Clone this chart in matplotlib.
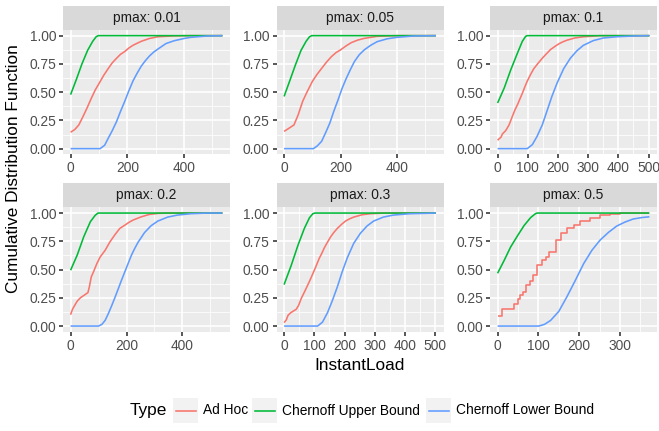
import matplotlib
matplotlib.use("Agg")
import matplotlib.pyplot as plt
from matplotlib.patches import Rectangle
from matplotlib.lines import Line2D

plt.rcParams['font.family'] = ['Liberation Sans', 'DejaVu Sans']

# ggplot-like hue palette
RED = "#F8766D"
GREEN = "#00BA38"
BLUE = "#619CFF"

# ---- pmax 0.01 ----
adhoc_x_001 = [0, 15, 29, 43, 58, 72, 87, 101, 117, 133, 147, 162, 176, 191, 205, 220, 249, 278, 307, 365, 420, 535]
adhoc_y_001 = [0.145, 0.17, 0.21, 0.28, 0.36, 0.44, 0.52, 0.58, 0.65, 0.71, 0.76, 0.80, 0.835, 0.86, 0.89, 0.915, 0.95, 0.975, 0.99, 0.998, 1.0, 1.0]
upper_x_001 = [0, 20, 40, 60, 78, 90, 97, 535]
upper_y_001 = [0.478, 0.61, 0.75, 0.87, 0.95, 0.99, 1.0, 1.0]
lower_x_001 = [0, 104, 120, 133, 147, 162, 176, 191, 205, 220, 235, 249, 264, 278, 293, 307, 336, 365, 400, 423, 481, 535]
lower_y_001 = [0, 0, 0.03, 0.094, 0.16, 0.24, 0.33, 0.42, 0.51, 0.6, 0.67, 0.73, 0.78, 0.82, 0.855, 0.88, 0.93, 0.955, 0.975, 0.985, 0.997, 1.0]

# ---- pmax 0.05 ----
adhoc_x_005 = [0, 17, 35, 50, 66, 81, 100, 116, 133, 150, 168, 184, 200, 220, 238, 260, 284, 330, 400, 538]
adhoc_y_005 = [0.153, 0.18, 0.21, 0.30, 0.42, 0.50, 0.594, 0.655, 0.71, 0.765, 0.815, 0.85, 0.874, 0.91, 0.938, 0.96, 0.976, 0.994, 1.0, 1.0]
upper_x_005 = [0, 20, 40, 60, 78, 90, 98, 538]
upper_y_005 = [0.462, 0.60, 0.74, 0.87, 0.95, 0.99, 1.0, 1.0]
lower_x_005 = [0, 104, 118, 133, 147, 162, 176, 191, 205, 220, 235, 249, 266, 284, 307, 330, 365, 400, 458, 538]
lower_y_005 = [0, 0, 0.025, 0.065, 0.14, 0.226, 0.33, 0.43, 0.53, 0.62, 0.70, 0.77, 0.83, 0.874, 0.915, 0.947, 0.972, 0.985, 0.997, 1.0]

# ---- pmax 0.1 ----
adhoc_x_01 = [0, 6, 11, 16, 27, 38, 49, 57, 66, 74, 82, 90, 98, 109, 120, 134, 148, 162, 175, 189, 202, 216, 230, 257, 284, 339, 503]
adhoc_y_01 = [0.074, 0.09, 0.10, 0.13, 0.16, 0.21, 0.286, 0.34, 0.39, 0.44, 0.49, 0.545, 0.596, 0.655, 0.708, 0.755, 0.80, 0.84, 0.876, 0.903, 0.926, 0.945, 0.96, 0.98, 0.99, 1.0, 1.0]
upper_x_01 = [0, 22, 44, 66, 82, 93, 98, 503]
upper_y_01 = [0.404, 0.537, 0.70, 0.847, 0.95, 0.994, 1.0, 1.0]
lower_x_01 = [0, 98, 115, 131, 148, 164, 180, 197, 219, 241, 263, 284, 317, 350, 394, 449, 503]
lower_y_01 = [0, 0, 0.035, 0.11, 0.21, 0.336, 0.463, 0.58, 0.708, 0.80, 0.867, 0.914, 0.956, 0.979, 0.99, 0.997, 1.0]

# ---- pmax 0.2 ----
adhoc_x_02 = [0, 4, 8, 14, 23.5, 35, 47, 62, 67, 74, 82, 94, 106, 123.5, 141, 159, 176, 194, 209, 223.5, 253, 282, 312, 347, 543]
adhoc_y_02 = [0.10, 0.13, 0.154, 0.18, 0.22, 0.25, 0.27, 0.296, 0.346, 0.435, 0.48, 0.553, 0.612, 0.67, 0.746, 0.81, 0.864, 0.893, 0.918, 0.938, 0.967, 0.988, 0.997, 1.0, 1.0]
upper_x_02 = [0, 23.5, 47, 70.6, 88, 98, 543]
upper_y_02 = [0.494, 0.627, 0.79, 0.923, 0.98, 1.0, 1.0]
lower_x_02 = [0, 100, 112, 123.5, 135, 147, 159, 170.6, 182, 194, 206, 217.6, 229, 241, 264.7, 288, 312, 347, 382, 429, 488, 543]
lower_y_02 = [0, 0, 0.015, 0.05, 0.11, 0.18, 0.255, 0.33, 0.405, 0.48, 0.555, 0.627, 0.685, 0.74, 0.828, 0.888, 0.929, 0.964, 0.982, 0.994, 1.0, 1.0]

# ---- pmax 0.3 ----
adhoc_x_03 = [0, 7.6, 13, 22, 29, 40, 48, 56.5, 67, 75, 84, 92, 100, 108, 116, 125, 133, 143, 154, 165, 176, 190, 203, 216, 230, 258, 285, 328, 502]
adhoc_y_03 = [0.03, 0.056, 0.095, 0.118, 0.13, 0.148, 0.183, 0.243, 0.30, 0.345, 0.396, 0.445, 0.494, 0.545, 0.598, 0.645, 0.692, 0.74, 0.79, 0.83, 0.864, 0.90, 0.929, 0.948, 0.964, 0.985, 0.994, 1.0, 1.0]
upper_x_03 = [0, 24, 46, 67, 84, 95, 102, 502]
upper_y_03 = [0.367, 0.54, 0.716, 0.864, 0.959, 0.994, 1.0, 1.0]
lower_x_03 = [0, 111, 127, 143.5, 160, 176, 192, 209, 230, 252, 274, 296, 328, 361, 415, 502]
lower_y_03 = [0, 0, 0.035, 0.118, 0.228, 0.346, 0.479, 0.604, 0.731, 0.82, 0.885, 0.929, 0.964, 0.982, 0.994, 1.0]

# ---- pmax 0.5 (ad hoc drawn as a step function) ----
adhoc_x_05 = [0, 10, 24, 39, 50, 55, 62, 70, 80, 87, 97, 109, 118, 126, 142, 156, 170, 187, 203, 227, 251, 276, 300, 372]
adhoc_y_05 = [0.086, 0.148, 0.155, 0.198, 0.24, 0.278, 0.30, 0.36, 0.40, 0.455, 0.54, 0.585, 0.61, 0.657, 0.76, 0.82, 0.864, 0.893, 0.93, 0.96, 0.98, 0.993, 1.0, 1.0]
upper_x_05 = [0, 16, 32, 49, 65, 81, 93, 97, 372]
upper_y_05 = [0.467, 0.58, 0.70, 0.80, 0.89, 0.96, 0.995, 1.0, 1.0]
lower_x_05 = [0, 101, 115, 130, 150, 170, 190.6, 211, 231, 251, 272, 292, 312, 332, 353, 372]
lower_y_05 = [0, 0, 0.015, 0.05, 0.13, 0.26, 0.405, 0.553, 0.67, 0.76, 0.83, 0.885, 0.92, 0.947, 0.96, 0.967]

pmax_labels = ["0.01", "0.05", "0.1", "0.2", "0.3", "0.5"]
x_ticks = [[0, 200, 400], [0, 200, 400], [0, 100, 200, 300, 400, 500],
           [0, 200, 400], [0, 100, 200, 300, 400, 500], [0, 100, 200, 300]]
y_ticks = [0, 0.25, 0.5, 0.75, 1.0]
y_ticklabels = ["0.00", "0.25", "0.50", "0.75", "1.00"]

panels = [
    (adhoc_x_001, adhoc_y_001, upper_x_001, upper_y_001, lower_x_001, lower_y_001, False),
    (adhoc_x_005, adhoc_y_005, upper_x_005, upper_y_005, lower_x_005, lower_y_005, False),
    (adhoc_x_01, adhoc_y_01, upper_x_01, upper_y_01, lower_x_01, lower_y_01, False),
    (adhoc_x_02, adhoc_y_02, upper_x_02, upper_y_02, lower_x_02, lower_y_02, False),
    (adhoc_x_03, adhoc_y_03, upper_x_03, upper_y_03, lower_x_03, lower_y_03, False),
    (adhoc_x_05, adhoc_y_05, upper_x_05, upper_y_05, lower_x_05, lower_y_05, True),
]

W, H = 659, 431
DPI = 96
fig = plt.figure(figsize=(W / DPI, H / DPI), dpi=DPI)

SMALL = 10.3   # tick, strip and legend labels
BIG = 12.9     # axis and legend titles
LW = 1.2


def px_rect(left, top, w, h):
    return [left / W, 1 - (top + h) / H, w / W, h / H]


col_left = [63, 276.5, 490]
panel_w = 167
row_top = [30, 207.4]
panel_h = 124.3
strip_h = 24.5

for i, (ax_, ay_, ux, uy, lx, ly, steps) in enumerate(panels):
    r, c = divmod(i, 3)
    ax = fig.add_axes(px_rect(col_left[c], row_top[r], panel_w, panel_h))
    ax.set_facecolor("#EBEBEB")
    for s in ax.spines.values():
        s.set_visible(False)

    ds = "steps-post" if steps else "default"
    ax.plot(ax_, ay_, color=RED, lw=LW, drawstyle=ds, solid_capstyle="butt")
    ax.plot(ux, uy, color=GREEN, lw=LW, solid_capstyle="butt")
    ax.plot(lx, ly, color=BLUE, lw=LW, solid_capstyle="butt")

    xmax = max(ax_[-1], ux[-1], lx[-1])
    ax.set_xlim(-0.05 * xmax, 1.05 * xmax)
    ax.set_ylim(-0.05, 1.05)

    xt = x_ticks[i]
    ax.set_xticks(xt)
    ax.set_xticklabels([str(v) for v in xt])
    step = xt[1] - xt[0]
    ax.set_xticks([v + step / 2 for v in [xt[0] - step] + xt if -0.05 * xmax < v + step / 2 < 1.05 * xmax], minor=True)
    ax.set_yticks(y_ticks)
    ax.set_yticklabels(y_ticklabels)
    ax.set_yticks([0.125, 0.375, 0.625, 0.875], minor=True)

    ax.grid(True, which="major", color="white", lw=LW)
    ax.grid(True, which="minor", color="white", lw=LW / 2)
    ax.set_axisbelow(True)
    ax.tick_params(which="major", length=3.0, width=LW, color="#333333",
                   labelsize=SMALL, labelcolor="#4D4D4D", pad=2.2)
    ax.tick_params(which="minor", length=0)

    # facet strip
    st = fig.add_axes(px_rect(col_left[c], row_top[r] - strip_h, panel_w, strip_h))
    st.set_facecolor("#D9D9D9")
    st.set_xticks([])
    st.set_yticks([])
    for s in st.spines.values():
        s.set_visible(False)
    st.text(0.5, 0.5, "pmax: " + pmax_labels[i], ha="center", va="center",
            fontsize=SMALL, color="#1A1A1A", transform=st.transAxes)

# axis titles
fig.text((63 + 657) / 2 / W, 1 - 365 / H, "InstantLoad", ha="center", va="center", fontsize=BIG)
fig.text(14 / W, 1 - 169 / H, "Cumulative Distribution Function", ha="center", va="center",
         rotation=90, fontsize=BIG)

# legend
legend_y = 410.5
fig.text(130 / W, 1 - legend_y / H, "Type", ha="left", va="center", fontsize=BIG)
legend_items = [(173, RED, "Ad Hoc"), (252, GREEN, "Chernoff Upper Bound"), (426, BLUE, "Chernoff Lower Bound")]
for kx, col, lab in legend_items:
    fig.add_artist(Rectangle((kx / W, 1 - (legend_y + 12.5) / H), 25 / W, 25 / H,
                             transform=fig.transFigure, facecolor="#F2F2F2", edgecolor="none"))
    fig.add_artist(Line2D([(kx + 2.5) / W, (kx + 22.5) / W], [1 - legend_y / H] * 2,
                          transform=fig.transFigure, color=col, lw=LW))
    fig.text((kx + 30) / W, 1 - legend_y / H, lab, ha="left", va="center", fontsize=SMALL)

fig.savefig("out.png", dpi=DPI)
